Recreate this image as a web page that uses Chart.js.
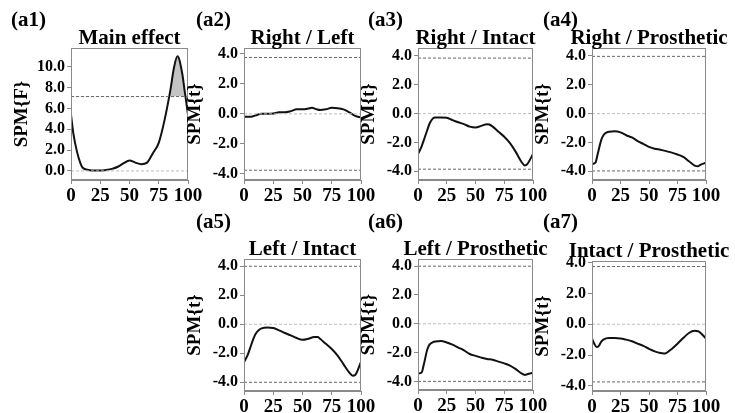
<!DOCTYPE html>
<html>
<head>
<meta charset="utf-8">
<script src="https://cdn.jsdelivr.net/npm/chart.js@4.4.1/dist/chart.umd.min.js"></script>
<style>
  body { margin: 0; background: #fff; }
  #page { position: relative; width: 735px; height: 413px; overflow: hidden; }
  #page canvas { position: absolute; }
  .tag { position: absolute; font: bold 21px "Liberation Serif", serif; color: #000; }
</style>
</head>
<body>
<div id="page"></div>
<script>
// panel titles / tags
const titles = ['Main effect', 'Right / Left', 'Right / Intact', 'Right / Prosthetic',
  'Left / Intact', 'Left / Prosthetic', 'Intact / Prosthetic'];
const tags = ['(a1)', '(a2)', '(a3)', '(a4)', '(a5)', '(a6)', '(a7)'];
const yLabels = ['SPM{F}', 'SPM{t}', 'SPM{t}', 'SPM{t}', 'SPM{t}', 'SPM{t}', 'SPM{t}'];
const xTicks = [0, 25, 50, 75, 100];
const thresholds = [7.14, 3.75, 3.85, 3.97, 4.0, 4.0, 3.74];
const yRanges = [[-0.87, 11.8], [-4.4, 4.38], [-4.6, 4.55], [-4.6, 4.55],
  [-4.6, 4.5], [-4.6, 4.5], [-4.33, 4.1]];

// (a1) main effect
const mainX = [0, 2, 5, 8, 10, 15, 20, 25, 30, 35, 40, 45, 50, 55, 60, 65, 70, 75, 80, 85, 88, 91, 95, 97, 100];
const mainY = [5.4, 3.6, 1.9, 0.75, 0.3, 0.1, 0.05, 0.05, 0.1, 0.2, 0.4, 0.75, 1.0, 0.8, 0.65, 0.8, 1.7, 2.7, 4.9, 7.8, 9.9, 11.0, 9.4, 7.8, 5.4];
// (a2) right / left
const rlX = [0, 5, 10, 15, 20, 25, 30, 35, 40, 45, 50, 55, 58, 62, 65, 70, 75, 80, 85, 90, 95, 100];
const rlY = [-0.2, -0.2, -0.1, 0, 0, 0.02, 0.1, 0.1, 0.18, 0.3, 0.3, 0.35, 0.4, 0.3, 0.25, 0.3, 0.4, 0.38, 0.3, 0.1, -0.13, -0.25];
// (a3) right / intact
const riX = [0, 3, 5, 8, 10, 13, 15, 20, 25, 30, 35, 40, 45, 50, 55, 60, 62, 65, 70, 75, 80, 85, 90, 93, 95, 100];
const riY = [-2.8, -2.3, -1.85, -1.15, -0.7, -0.33, -0.26, -0.26, -0.28, -0.45, -0.6, -0.73, -0.9, -0.96, -0.85, -0.73, -0.75, -0.9, -1.26, -1.6, -2.05, -2.65, -3.35, -3.6, -3.5, -2.8];
// (a4) right / prosthetic
const rpX = [0, 3, 5, 8, 10, 13, 15, 20, 25, 30, 35, 40, 45, 50, 55, 60, 65, 70, 75, 80, 85, 90, 93, 95, 100];
const rpY = [-3.5, -3.4, -2.8, -1.85, -1.5, -1.3, -1.25, -1.22, -1.3, -1.5, -1.65, -1.9, -2.1, -2.3, -2.43, -2.5, -2.6, -2.7, -2.83, -3.0, -3.3, -3.6, -3.65, -3.55, -3.4];
// (a5) left / intact
const liX = [0, 3, 5, 8, 10, 13, 15, 20, 25, 30, 35, 40, 45, 50, 55, 60, 63, 65, 70, 75, 80, 85, 90, 93, 95, 100];
const liY = [-2.6, -2.15, -1.7, -1.0, -0.65, -0.37, -0.28, -0.23, -0.26, -0.42, -0.6, -0.77, -0.95, -1.07, -1.0, -0.88, -0.88, -1.0, -1.35, -1.7, -2.16, -2.75, -3.33, -3.55, -3.5, -2.6];
// (a6) left / prosthetic
const lpX = [0, 3, 5, 8, 10, 13, 15, 20, 25, 30, 35, 40, 45, 50, 55, 60, 65, 70, 75, 80, 85, 90, 93, 95, 100];
const lpY = [-3.45, -3.4, -2.85, -1.8, -1.45, -1.28, -1.23, -1.2, -1.3, -1.45, -1.65, -1.85, -2.1, -2.23, -2.35, -2.45, -2.5, -2.63, -2.75, -2.9, -3.15, -3.45, -3.55, -3.5, -3.4];
// (a7) intact / prosthetic
const ipX = [0, 2, 4, 6, 8, 10, 15, 20, 25, 30, 35, 40, 45, 50, 55, 60, 63, 65, 70, 75, 80, 85, 90, 93, 95, 100];
const ipY = [-0.93, -1.26, -1.48, -1.4, -1.15, -1.0, -0.9, -0.9, -0.92, -1.0, -1.1, -1.26, -1.4, -1.6, -1.76, -1.87, -1.9, -1.87, -1.6, -1.26, -0.9, -0.57, -0.43, -0.45, -0.55, -0.93];

const seriesX = [mainX, rlX, riX, rpX, liX, lpX, ipX];
const seriesY = [mainY, rlY, riY, rpY, liY, lpY, ipY];

// plot-area boxes [left, top, width, height] and tag positions
const boxes = [[71, 48, 117, 132], [244, 48, 117, 132], [418, 48, 115, 132], [592, 48, 114, 132],
  [244, 259, 117, 132], [418, 259, 115, 131], [592, 261, 114, 130]];
const tagPos = [[11, 7], [196, 7], [368, 7], [543, 7], [196, 209], [368, 209], [543, 209]];

const YW = 62, TH = 40, XH = 32, RP = 26;
const serif = '"Liberation Serif", "Times New Roman", serif';
const page = document.getElementById('page');

const frame = {
  id: 'frame',
  afterDraw(chart) {
    const a = chart.chartArea, ctx = chart.ctx;
    ctx.save();
    ctx.strokeStyle = '#8a8a8a';
    ctx.lineWidth = 1;
    ctx.strokeRect(a.left + 0.5, a.top + 0.5, a.right - a.left - 1, a.bottom - a.top - 1);
    ctx.fillStyle = '#000';
    ctx.font = 'bold 21px ' + serif;
    ctx.textAlign = 'center';
    ctx.textBaseline = 'alphabetic';
    ctx.fillText(chart.options.plugins.panelTitle, (a.left + a.right) / 2, a.top - 4);
    ctx.restore();
  }
};

function hline(y, color) {
  return {
    data: [{ x: 0, y: y }, { x: 100, y: y }],
    borderColor: color, borderWidth: 1, borderDash: [3, 2],
    pointRadius: 0, fill: false
  };
}

for (let i = 0; i < 7; i++) {
  const [l, t, w, h] = boxes[i];
  const cv = document.createElement('canvas');
  cv.width = YW + w + RP;
  cv.height = TH + h + XH;
  cv.style.left = (l - YW) + 'px';
  cv.style.top = (t - TH) + 'px';
  page.appendChild(cv);

  const tag = document.createElement('div');
  tag.className = 'tag';
  tag.textContent = tags[i];
  tag.style.left = tagPos[i][0] + 'px';
  tag.style.top = tagPos[i][1] + 'px';
  page.appendChild(tag);

  const pts = seriesX[i].map((x, k) => ({ x: x, y: seriesY[i][k] }));
  const datasets = [hline(0, '#bdbdbd'), hline(thresholds[i], '#666')];
  if (i > 0) datasets.push(hline(-thresholds[i], '#666'));
  datasets.push({
    data: pts,
    borderColor: '#111', borderWidth: 2, pointRadius: 0,
    cubicInterpolationMode: 'monotone',
    fill: i === 0 ? { target: { value: thresholds[0] }, above: '#c4c4c4', below: 'rgba(0,0,0,0)' } : false
  });

  new Chart(cv, {
    type: 'line',
    data: { datasets: datasets },
    options: {
      responsive: false,
      animation: false,
      devicePixelRatio: 1,
      layout: { padding: { top: TH, right: RP, left: 0, bottom: 0 } },
      plugins: { legend: { display: false }, tooltip: { enabled: false }, panelTitle: titles[i] },
      scales: {
        x: {
          type: 'linear', min: 0, max: 100,
          afterBuildTicks: s => { s.ticks = xTicks.map(v => ({ value: v })); },
          afterFit: s => { s.height = XH; },
          grid: { drawOnChartArea: false, tickLength: 4, color: '#8a8a8a' },
          border: { color: '#8a8a8a' },
          ticks: { color: '#000', padding: 1, maxRotation: 0, autoSkip: false,
            font: { family: serif, size: 19, weight: 'bold' } }
        },
        y: {
          min: yRanges[i][0], max: yRanges[i][1],
          afterFit: s => { s.width = YW; },
          grid: { drawOnChartArea: false, tickLength: 4, color: '#8a8a8a' },
          border: { color: '#8a8a8a' },
          ticks: {
            stepSize: 2, includeBounds: false, color: '#000', padding: 2,
            font: { family: serif, size: 16, weight: 'bold' },
            callback: v => v.toFixed(1)
          },
          title: {
            display: true, text: yLabels[i], color: '#000', padding: { top: 2, bottom: 0 },
            font: { family: serif, size: 19, weight: 'bold' }
          }
        }
      }
    },
    plugins: [frame]
  });
}
</script>
</body>
</html>
